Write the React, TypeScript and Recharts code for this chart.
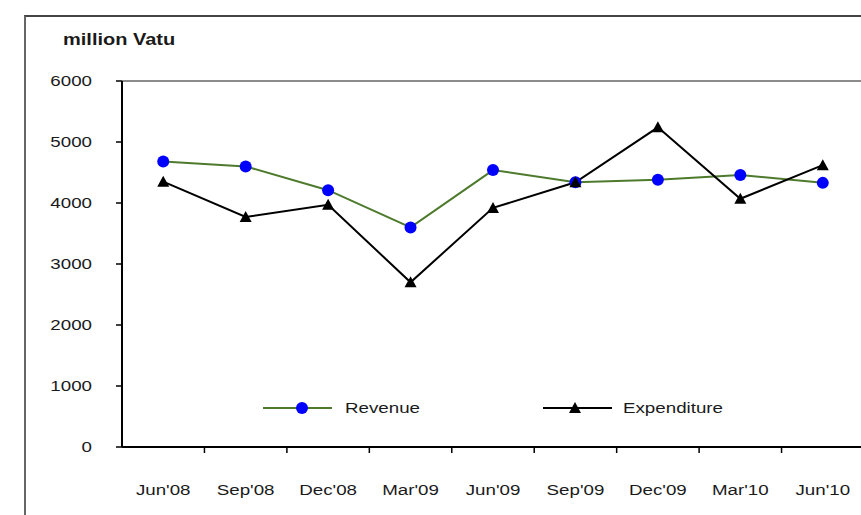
import { LineChart, Line, XAxis, YAxis, ReferenceLine, Legend } from 'recharts';

const MONTHS = ["Jun'08", "Sep'08", "Dec'08", "Mar'09", "Jun'09", "Sep'09", "Dec'09", "Mar'10", "Jun'10"];
const REVENUE = [4680, 4600, 4210, 3600, 4540, 4340, 4380, 4460, 4330];
const EXPENDITURE = [4350, 3770, 3970, 2700, 3920, 4340, 5240, 4070, 4620];
const Y_TICKS = [0, 1000, 2000, 3000, 4000, 5000, 6000];

const data = MONTHS.map((month, i) => ({
  month,
  revenue: REVENUE[i],
  expenditure: EXPENDITURE[i],
}));

const FONT = "'Liberation Sans', Arial, sans-serif";
const INK = '#1a1a1a';
const REV_LINE = '#4d7a2c';
const REV_DOT = '#0000ff';
const STRETCH = 1.25;

function YTick(props: any) {
  const { x, y, payload } = props;
  return (
    <text
      transform={`translate(${x},${y}) scale(${STRETCH},1)`}
      textAnchor="end"
      dominantBaseline="central"
      fontFamily={FONT}
      fontSize={15}
      fill={INK}
    >
      {payload.value}
    </text>
  );
}

// category labels sit at band centres, tick marks go on the band edges
function XTick(props: any) {
  const { x, y, payload, index, width } = props;
  const band = (width || 742) / MONTHS.length;
  const right = x + band / 2;
  return (
    <g>
      {index < MONTHS.length - 1 && (
        <line x1={right} x2={right} y1={y} y2={y + 6} stroke="#000" strokeWidth={1.5} />
      )}
      <text
        transform={`translate(${x},${y + 43}) scale(${STRETCH},1)`}
        textAnchor="middle"
        dominantBaseline="central"
        fontFamily={FONT}
        fontSize={15}
        fill={INK}
      >
        {payload.value}
      </text>
    </g>
  );
}

function Triangle(props: any) {
  const { cx, cy } = props;
  if (cx == null || cy == null) return null;
  return <path d={`M${cx},${cy - 6} L${cx + 6},${cy + 5} L${cx - 6},${cy + 5} Z`} fill="#000" />;
}

function LegendBox() {
  return (
    <svg width={480} height={24}>
      <line x1={3} x2={72} y1={12} y2={12} stroke={REV_LINE} strokeWidth={2} />
      <circle cx={42} cy={12} r={6} fill={REV_DOT} />
      <text
        transform={`translate(85,12) scale(${STRETCH},1)`}
        dominantBaseline="central"
        fontFamily={FONT}
        fontSize={15}
        fill={INK}
      >
        Revenue
      </text>
      <line x1={283} x2={352} y1={12} y2={12} stroke="#000" strokeWidth={2} />
      <path d="M315,6 L321,17 L309,17 Z" fill="#000" />
      <text
        transform={`translate(363,12) scale(${STRETCH},1)`}
        dominantBaseline="central"
        fontFamily={FONT}
        fontSize={15}
        fill={INK}
      >
        Expenditure
      </text>
    </svg>
  );
}

export default function App() {
  return (
    <div
      style={{
        position: 'fixed',
        left: 0,
        top: 0,
        width: 861,
        height: 515,
        overflow: 'hidden',
        background: '#fff',
      }}
    >
      <div
        style={{
          position: 'absolute',
          left: 24,
          top: 15,
          width: 900,
          height: 600,
          borderTop: '2px solid #444',
          borderLeft: '2px solid #666',
        }}
      />
      <svg
        width={200}
        height={30}
        style={{ position: 'absolute', left: 0, top: 25 }}
      >
        <text
          transform={`translate(63,15) scale(${STRETCH},1)`}
          dominantBaseline="central"
          fontFamily={FONT}
          fontSize={16}
          fontWeight="bold"
          fill={INK}
        >
          million Vatu
        </text>
      </svg>
      <div style={{ position: 'absolute', left: 0, top: 0 }}>
        <LineChart
          width={900}
          height={515}
          data={data}
          margin={{ top: 81, right: 36, bottom: 18, left: 62 }}
        >
          <XAxis
            dataKey="month"
            scale="band"
            height={50}
            tickSize={0}
            tickMargin={0}
            tickLine={false}
            axisLine={{ stroke: '#000', strokeWidth: 2 }}
            tick={<XTick />}
            interval={0}
          />
          <YAxis
            width={60}
            domain={[0, 6000]}
            ticks={Y_TICKS}
            tickSize={6}
            tickMargin={24}
            tickLine={{ stroke: '#000', strokeWidth: 1.5 }}
            axisLine={{ stroke: '#000', strokeWidth: 2 }}
            tick={<YTick />}
            interval={0}
          />
          <ReferenceLine y={6000} stroke="#8c8c8c" strokeWidth={2} />
          <Legend
            verticalAlign="middle"
            align="center"
            wrapperStyle={{ left: 260, top: 396, width: 480, height: 24 }}
            content={<LegendBox />}
          />
          <Line
            dataKey="revenue"
            name="Revenue"
            stroke={REV_LINE}
            strokeWidth={2}
            dot={{ r: 6, fill: REV_DOT, stroke: 'none' }}
            isAnimationActive={false}
          />
          <Line
            dataKey="expenditure"
            name="Expenditure"
            stroke="#000"
            strokeWidth={2}
            dot={<Triangle />}
            isAnimationActive={false}
          />
        </LineChart>
      </div>
    </div>
  );
}
